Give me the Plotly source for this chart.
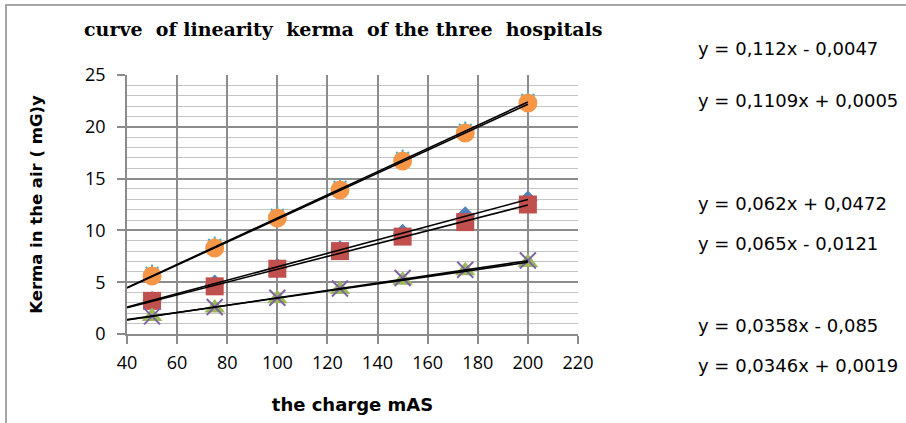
import plotly.graph_objects as go
import numpy as np

# ---- data ----
charge_mas = [50, 75, 100, 125, 150, 175, 200]
diamond_blue = [3.2, 4.8, 6.4, 8.1, 9.7, 11.4, 12.9]
square_red = [3.2, 4.6, 6.3, 8.0, 9.4, 10.8, 12.5]
triangle_green = [1.7, 2.5, 3.4, 4.3, 5.2, 6.1, 6.9]
cross_purple = [1.7, 2.6, 3.5, 4.4, 5.4, 6.2, 7.1]
star_cyan = [5.85, 8.55, 11.45, 14.15, 16.95, 19.65, 22.55]
circle_orange = [5.6, 8.3, 11.2, 13.9, 16.7, 19.4, 22.3]

# trend line coefficients (as displayed)
trend_slopes = [0.112, 0.1109, 0.062, 0.065, 0.0358, 0.0346]
trend_intercepts = [-0.0047, 0.0005, 0.0472, -0.0121, -0.085, 0.0019]
trend_labels = ["y = 0,112x - 0,0047", "y = 0,1109x + 0,0005",
                "y = 0,062x + 0,0472", "y = 0,065x - 0,0121",
                "y = 0,0358x - 0,085", "y = 0,0346x + 0,0019"]
trend_x_range = [40, 200]

title_text = "curve  of linearity  kerma  of the three  hospitals"
x_title = "the charge mAS"
y_title = "Kerma in the air ( mG)y"

W, H = 906, 423
# plot area in pixels: x 127..578, y 75..334
L, T = 127, 75
R, B = W - 578, H - 334
pw, ph = W - L - R, H - T - B

def px_to_paper_x(px):
    return (px - L) / pw

def py_to_paper_y(py):
    return (H - B - py) / ph

fig = go.Figure()

series = [
    (diamond_blue, "diamond", "#4f81bd", 15, None),
    (square_red, "square", "#c0504d", 18, None),
    (triangle_green, "triangle-up", "#9bbb59", 18, None),
    (cross_purple, "x-thin-open", "#8064a2", 16, 2),
    (star_cyan, "asterisk-open", "#4bacc6", 15, 2),
    (circle_orange, "circle", "#f79646", 19, None),
]
for vals, sym, col, size, lw in series:
    marker = dict(symbol=sym, color=col, size=size)
    if lw:
        marker["line"] = dict(color=col, width=lw)
    else:
        marker["line"] = dict(width=0)
    fig.add_trace(go.Scatter(x=charge_mas, y=vals, mode="markers",
                             marker=marker, showlegend=False,
                             hoverinfo="skip"))

tx = np.array(trend_x_range, dtype=float)
for m, c in zip(trend_slopes, trend_intercepts):
    fig.add_trace(go.Scatter(x=tx, y=m * tx + c, mode="lines",
                             line=dict(color="black", width=1.6),
                             showlegend=False, hoverinfo="skip"))

eq_y_px = [48, 100, 203, 243, 325, 365]
for lab, py in zip(trend_labels, eq_y_px):
    fig.add_annotation(x=px_to_paper_x(696), y=py_to_paper_y(py),
                       xref="paper", yref="paper", text=lab,
                       showarrow=False, xanchor="left", yanchor="middle",
                       font=dict(family="DejaVu Sans", size=18, color="black"))

# title
fig.add_annotation(x=px_to_paper_x(343), y=py_to_paper_y(29),
                   xref="paper", yref="paper", text="<b>" + title_text + "</b>",
                   showarrow=False, xanchor="center", yanchor="middle",
                   font=dict(family="DejaVu Serif", size=19, color="black"))

# outer frame (left and top edges)
fig.add_shape(type="rect", xref="paper", yref="paper",
              x0=px_to_paper_x(6), x1=px_to_paper_x(W + 30),
              y0=py_to_paper_y(H + 30), y1=py_to_paper_y(5),
              line=dict(color="#a6a6a6", width=2), layer="below")

fig.update_layout(
    width=W, height=H,
    margin=dict(l=L, r=R, t=T, b=B, autoexpand=False),
    paper_bgcolor="white", plot_bgcolor="white",
    showlegend=False,
    xaxis=dict(range=[40, 220], dtick=20, tick0=40, automargin=False,
               showgrid=True, gridcolor="#8c8c8c", gridwidth=1.5,
               showline=True, linecolor="#8c8c8c", linewidth=1.5,
               ticks="outside", ticklen=8, tickcolor="#8c8c8c", tickwidth=1.5,
               ticklabelstandoff=4,
               tickfont=dict(family="Open Sans", size=18, color="black"),
               zeroline=False,
               title=dict(text="<b>" + x_title + "</b>", standoff=25,
                          font=dict(family="DejaVu Sans", size=18, color="black"))),
    yaxis=dict(range=[0, 25], dtick=5, automargin=False,
               showgrid=True, gridcolor="#8c8c8c", gridwidth=1.5,
               showline=True, linecolor="#8c8c8c", linewidth=1.5,
               ticks="outside", ticklen=8, tickcolor="#8c8c8c", tickwidth=1.5,
               ticklabelstandoff=8,
               tickfont=dict(family="Open Sans", size=18, color="black"),
               zeroline=False,
               minor=dict(dtick=1, showgrid=True, gridcolor="#c4c4c4",
                          gridwidth=1.3, ticks=""),
               title=dict(text="<b>" + y_title + "</b>", standoff=38,
                          font=dict(family="DejaVu Sans", size=16.5, color="black"))),
)

fig.write_html("out.html", config={"displayModeBar": False},
               post_script="document.body.style.margin='0';")
